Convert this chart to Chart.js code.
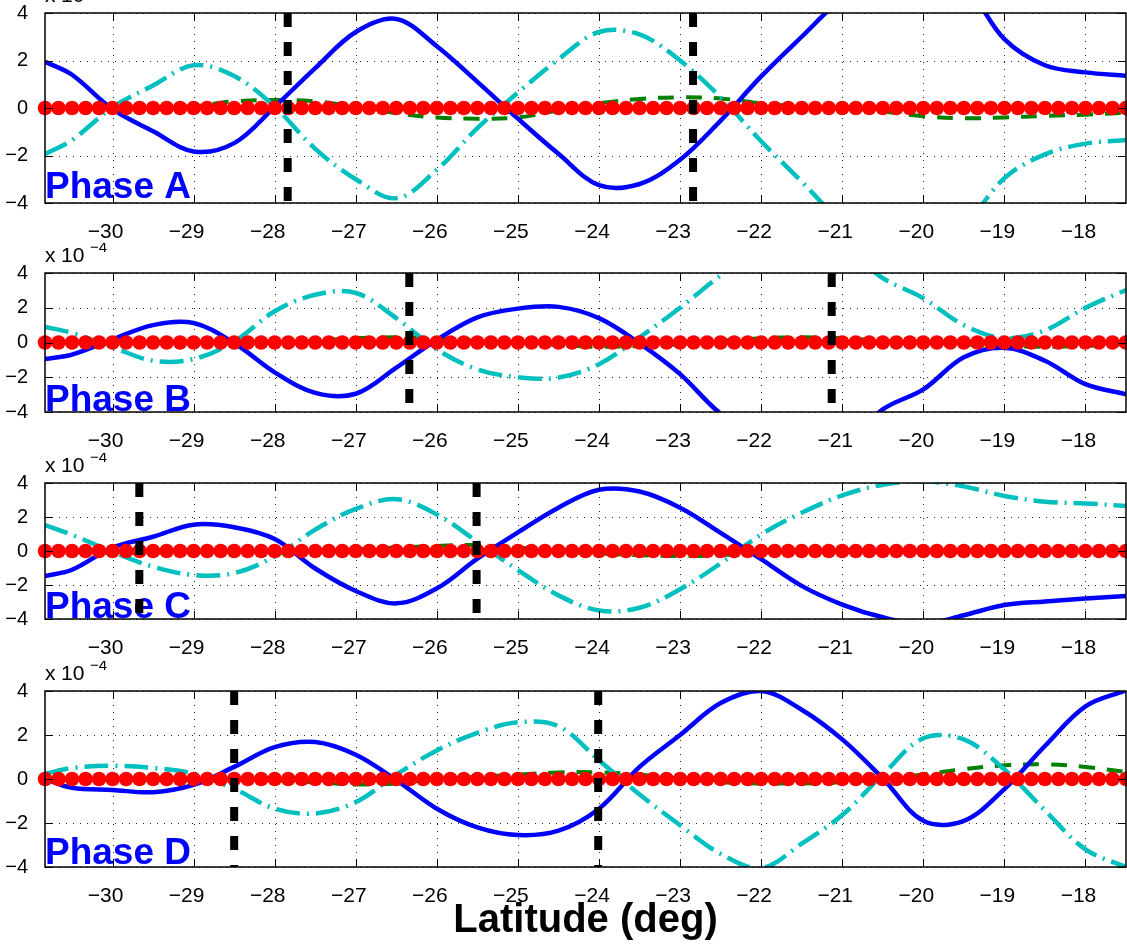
<!DOCTYPE html>
<html lang="en">
<head>
<meta charset="UTF-8">
<title>Phase A-D</title>
<script src="https://cdn.jsdelivr.net/npm/chart.js@4.4.0/dist/chart.umd.min.js"></script>
<style>
  body { margin: 0; background: #fff; width: 1127px; height: 947px; overflow: hidden; position: relative; }
  .panel { position: absolute; left: 0; }
  #xlabel { position: absolute; left: 0; width: 1171px; top: 898px; text-align: center;
            font: bold 40px "Liberation Sans", Arial, Helvetica, sans-serif; line-height: 40px; color: #000; }
</style>
</head>
<body>
<canvas class="panel" id="cA" width="1127" height="256" style="top:-17px"></canvas>
<canvas class="panel" id="cB" width="1127" height="205" style="top:243px"></canvas>
<canvas class="panel" id="cC" width="1127" height="202" style="top:453px"></canvas>
<canvas class="panel" id="cD" width="1127" height="242" style="top:661px"></canvas>
<div id="xlabel">Latitude (deg)</div>

<script>
// latitude grid for the curves (deg)
const lat = [-30.833, -30.5, -30, -29.5, -29, -28.5, -28, -27.5, -27, -26.5, -26, -25.5, -25, -24.5,
             -24, -23.5, -23, -22.5, -22, -21.5, -21, -20.5, -20, -19.5, -19, -18.5, -18, -17.5]

// values in units of 1e-4
const blueA  = [1.95, 1.4, -0.05, -0.98, -1.83, -1.48, 0.05, 1.68, 3.2, 3.75, 2.6, 1.1, -0.45, -1.93,
                -3.25, -3.2, -2.18, -0.53, 1.33, 3.0, 4.6, 5.5, 5.9, 5.2, 2.9, 1.8, 1.5, 1.35]
const cyanA  = [-1.94, -1.35, 0.03, 0.95, 1.8, 1.35, 0.05, -1.72, -3.0, -3.8, -2.6, -0.85, 0.65, 2.05,
                3.2, 3.1, 2.0, 0.45, -1.4, -3.1, -4.8, -5.8, -6.2, -5.0, -2.95, -1.95, -1.5, -1.35]
const greenA = [0, 0, 0, 0.02, 0.08, 0.28, 0.34, 0.28, 0.05, -0.22, -0.4, -0.45, -0.4, -0.1,
                0.2, 0.38, 0.45, 0.4, 0.2, 0.05, 0, -0.15, -0.35, -0.43, -0.4, -0.33, -0.28, -0.2]

const blueB  = [-0.95, -0.7, 0.18, 1.0, 1.12, -0.03, -1.72, -2.9, -2.95, -1.45, 0.16, 1.45, 1.95, 2.05,
                1.4, -0.05, -1.82, -4.1, -5.5, -6.3, -6.0, -3.85, -2.7, -0.85, -0.3, -1.05, -2.4, -2.98]
const cyanB  = [0.89, 0.55, -0.27, -1.05, -0.95, 0.05, 1.8, 2.75, 2.85, 1.4, -0.4, -1.55, -2.0, -2.02,
                -1.25, 0.3, 2.0, 3.85, 5.3, 6.0, 5.5, 3.7, 2.55, 1.0, 0.25, 0.7, 2.0, 3.02]
const greenB = [0, 0, 0, 0, 0, 0, 0, 0.1, 0.25, 0.3, 0.25, 0.1, 0, -0.15,
                -0.25, -0.2, -0.1, 0.1, 0.25, 0.3, 0.25, 0.1, 0, -0.1, -0.2, -0.25, -0.2, -0.1]

const blueC  = [-1.47, -1.1, 0.2, 0.84, 1.55, 1.4, 0.7, -1.03, -2.35, -3.08, -2.2, -0.45, 1.1, 2.55,
                3.6, 3.5, 2.55, 1.07, -0.48, -2.05, -3.15, -3.9, -4.3, -3.78, -3.18, -2.97, -2.8, -2.65]
const cyanC  = [1.53, 0.95, -0.05, -0.92, -1.41, -1.3, -0.32, 1.26, 2.48, 3.05, 2.15, 0.54, -1.12, -2.61,
                -3.5, -3.34, -2.25, -0.73, 0.97, 2.25, 3.27, 3.9, 4.1, 3.8, 3.24, 2.9, 2.8, 2.65]
const greenC = [0, -0.05, -0.1, -0.1, -0.05, 0, -0.05, 0, 0.1, 0.2, 0.3, 0.35, 0.2, 0,
                -0.15, -0.25, -0.3, -0.25, -0.1, 0, 0.05, 0.05, 0.05, 0.05, 0.05, 0.05, 0.05, 0.05]

const blueD  = [0, -0.4, -0.5, -0.6, -0.27, 0.55, 1.45, 1.68, 1.1, -0.05, -1.35, -2.2, -2.55, -2.35,
                -1.35, 0.55, 2.0, 3.45, 4.0, 3.15, 1.8, 0.03, -1.9, -1.9, -0.46, 1.5, 3.3, 4.03]
const cyanD  = [0.24, 0.5, 0.6, 0.5, 0.24, -0.45, -1.35, -1.57, -1.05, 0.2, 1.3, 2.1, 2.58, 2.4,
                0.85, -0.7, -2.1, -3.4, -4.05, -2.94, -1.64, 0.2, 1.85, 1.8, 0.43, -1.43, -3.2, -4.0]
const greenD = [0, 0, 0, 0, 0, 0, -0.05, -0.15, -0.25, -0.2, 0, 0.1, 0.2, 0.3,
                0.3, 0.2, 0, -0.15, -0.2, -0.2, -0.15, 0, 0.2, 0.45, 0.62, 0.67, 0.55, 0.32]

// red markers
const markerLat = [-30.833, -30.667, -30.5, -30.333, -30.167,
  -30, -29.833, -29.667, -29.5, -29.333, -29.167,
  -29, -28.833, -28.667, -28.5, -28.333, -28.167,
  -28, -27.833, -27.667, -27.5, -27.333, -27.167,
  -27, -26.833, -26.667, -26.5, -26.333, -26.167,
  -26, -25.833, -25.667, -25.5, -25.333, -25.167,
  -25, -24.833, -24.667, -24.5, -24.333, -24.167,
  -24, -23.833, -23.667, -23.5, -23.333, -23.167,
  -23, -22.833, -22.667, -22.5, -22.333, -22.167,
  -22, -21.833, -21.667, -21.5, -21.333, -21.167,
  -21, -20.833, -20.667, -20.5, -20.333, -20.167,
  -20, -19.833, -19.667, -19.5, -19.333, -19.167,
  -19, -18.833, -18.667, -18.5, -18.333, -18.167,
  -18, -17.833, -17.667, -17.5]
const redVals = [0, 0, 0, 0, 0, 0, 0, 0, 0,
  0, 0, 0, 0, 0, 0, 0, 0, 0,
  0, 0, 0, 0, 0, 0, 0, 0, 0,
  0, 0, 0, 0, 0, 0, 0, 0, 0,
  0, 0, 0, 0, 0, 0, 0, 0, 0,
  0, 0, 0, 0, 0, 0, 0, 0, 0,
  0, 0, 0, 0, 0, 0, 0, 0, 0,
  0, 0, 0, 0, 0, 0, 0, 0, 0,
  0, 0, 0, 0, 0, 0, 0, 0, 0]

// black dashed markers (latitude)
const vlineA = [-27.84, -22.84]
const vlineB = [-26.34, -21.13]
const vlineC = [-29.67, -25.51]
const vlineD = [-28.50, -24.01]

const xTicks = [-30, -29, -28, -27, -26, -25, -24, -23, -22, -21, -20, -19, -18]
const yTicks = [-4, -2, 0, 2, 4]
const phaseNames = ['Phase A', 'Phase B', 'Phase C', 'Phase D']
const expText = ['x', '10', '\u22124']

const panels = [
  { id: 'cA', name: phaseNames[0], blue: blueA, cyan: cyanA, green: greenA, vlines: vlineA, drop: 5 },
  { id: 'cB', name: phaseNames[1], blue: blueB, cyan: cyanB, green: greenB, vlines: vlineB, drop: 1 },
  { id: 'cC', name: phaseNames[2], blue: blueC, cyan: cyanC, green: greenC, vlines: vlineC, drop: 1 },
  { id: 'cD', name: phaseNames[3], blue: blueD, cyan: cyanD, green: greenD, vlines: vlineD, drop: 3 }
]

const FONT = '"Liberation Sans", Arial, Helvetica, sans-serif'
const minus = v => String(v).replace('-', '\u2212')

function drawPhase(chart) {
  const ctx = chart.ctx, a = chart.chartArea
  const o = chart.options.plugins.axesPlugin
  ctx.save()
  ctx.font = 'bold 37px ' + FONT
  ctx.fillStyle = '#0000ff'
  ctx.textBaseline = 'alphabetic'
  ctx.fillText(o.name, a.left, a.bottom - o.drop)
  ctx.restore()
}

const axesPlugin = {
  id: 'axesPlugin',
  beforeDatasetsDraw(chart) {
    const ctx = chart.ctx, a = chart.chartArea, x = chart.scales.x, y = chart.scales.y
    ctx.save()
    ctx.strokeStyle = '#222'
    ctx.lineWidth = 1
    ctx.setLineDash([1, 6])
    xTicks.forEach(v => {
      const px = Math.round(x.getPixelForValue(v)) + 0.5
      ctx.beginPath(); ctx.moveTo(px, a.top); ctx.lineTo(px, a.bottom); ctx.stroke()
    })
    yTicks.forEach(v => {
      const py = Math.round(y.getPixelForValue(v)) + 0.5
      ctx.beginPath(); ctx.moveTo(a.left, py); ctx.lineTo(a.right, py); ctx.stroke()
    })
    ctx.restore()
    chart.$phaseDone = false
  },
  beforeDatasetDraw(chart, args) {
    if (chart.data.datasets[args.index].isVline && !chart.$phaseDone) {
      drawPhase(chart)
      chart.$phaseDone = true
    }
  },
  afterDatasetsDraw(chart) {
    const ctx = chart.ctx, a = chart.chartArea, x = chart.scales.x, y = chart.scales.y
    if (!chart.$phaseDone) { drawPhase(chart); chart.$phaseDone = true }
    ctx.save()
    ctx.strokeStyle = '#000'
    ctx.lineWidth = 1
    const t = 8
    xTicks.forEach(v => {
      const px = Math.round(x.getPixelForValue(v)) + 0.5
      ctx.beginPath()
      ctx.moveTo(px, a.bottom); ctx.lineTo(px, a.bottom - t)
      ctx.moveTo(px, a.top); ctx.lineTo(px, a.top + t)
      ctx.stroke()
    })
    yTicks.forEach(v => {
      const py = Math.round(y.getPixelForValue(v)) + 0.5
      ctx.beginPath()
      ctx.moveTo(a.left, py); ctx.lineTo(a.left + t, py)
      ctx.moveTo(a.right, py); ctx.lineTo(a.right - t, py)
      ctx.stroke()
    })
    ctx.lineWidth = 1.5
    ctx.strokeRect(a.left, a.top, a.right - a.left, a.bottom - a.top)

    // exponent label
    ctx.fillStyle = '#000'
    ctx.textBaseline = 'alphabetic'
    ctx.font = '21px ' + FONT
    ctx.fillText(expText[0], a.left, a.top - 11)
    ctx.fillText(expText[1], a.left + 16, a.top - 11)
    ctx.font = '15px ' + FONT
    ctx.fillText(expText[2], a.left + 45, a.top - 21)
    ctx.restore()
  }
}

panels.forEach(p => {
  const pts = vals => lat.map((v, i) => ({ x: v, y: vals[i] }))
  const datasets = [
    { data: pts(p.green), borderColor: '#008000', borderWidth: 4, borderDash: [16, 12],
      pointRadius: 0, tension: 0.35, order: 4, clip: 0 },
    { data: pts(p.cyan), borderColor: '#00bfbf', borderWidth: 4.5, borderDash: [24, 7, 2, 7],
      pointRadius: 0, tension: 0.35, order: 3, clip: 0 },
    { data: pts(p.blue), borderColor: '#0000ff', borderWidth: 4.5,
      pointRadius: 0, tension: 0.35, order: 2, clip: 0 },
    { data: markerLat.map((v, i) => ({ x: v, y: redVals[i] })), showLine: false,
      pointRadius: 7.3, pointBackgroundColor: '#ff0000', pointBorderWidth: 0, order: 1, clip: false }
  ]
  p.vlines.forEach(v => datasets.push({
    isVline: true, data: [{ x: v, y: 4 }, { x: v, y: -4 }], borderColor: '#000', borderWidth: 8,
    borderDash: [14, 15], pointRadius: 0, tension: 0, order: 0, clip: false
  }))

  new Chart(document.getElementById(p.id), {
    type: 'line',
    data: { datasets },
    options: {
      responsive: false,
      animation: false,
      events: [],
      layout: { autoPadding: false, padding: { top: 30, right: 1, left: 0, bottom: 0 } },
      elements: { line: { capBezierPoints: false, borderJoinStyle: 'round' } },
      plugins: { legend: { display: false }, tooltip: { enabled: false },
                 axesPlugin: { name: p.name, drop: p.drop } },
      scales: {
        x: {
          type: 'linear', min: -30.8333, max: -17.5,
          grid: { display: false }, border: { display: false },
          afterBuildTicks: s => { s.ticks = xTicks.map(v => ({ value: v })) },
          afterFit: s => { s.height = 36; s.paddingLeft = 0; s.paddingRight = 0 },
          ticks: { color: '#000', font: { family: FONT, size: 21 }, padding: 9, labelOffset: -7,
                   maxRotation: 0, autoSkip: false, callback: v => minus(v) }
        },
        y: {
          min: -4, max: 4,
          grid: { display: false }, border: { display: false },
          afterBuildTicks: s => { s.ticks = yTicks.map(v => ({ value: v })) },
          afterFit: s => { s.width = 45; s.paddingTop = 0; s.paddingBottom = 0 },
          ticks: { color: '#000', font: { family: FONT, size: 20 }, padding: 9, callback: v => minus(v) }
        }
      }
    },
    plugins: [axesPlugin]
  })
})
</script>
</body>
</html>
